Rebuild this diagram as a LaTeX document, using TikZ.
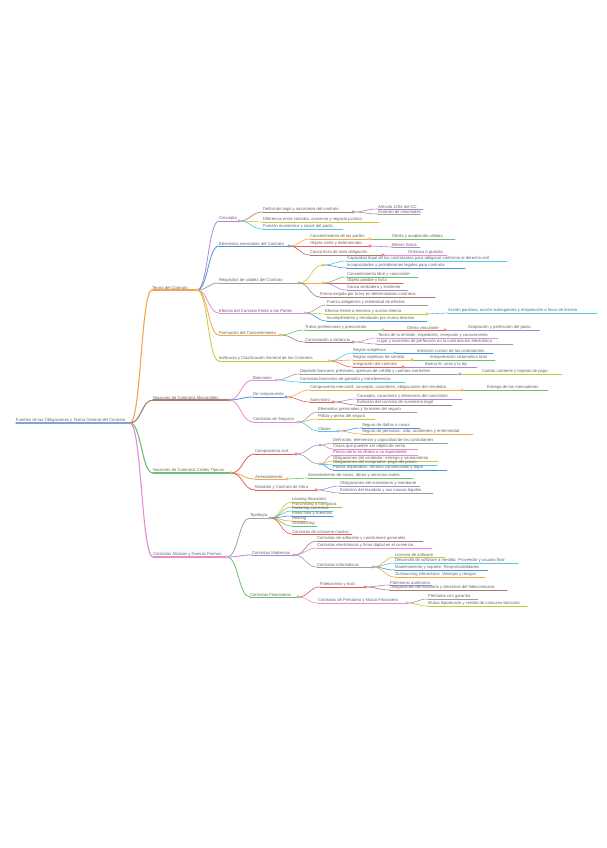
\documentclass[tikz,border=0pt]{standalone}
\usepackage{fontspec}
\setmainfont{Liberation Sans}
\usetikzlibrary{calc}
\definecolor{cpur}{HTML}{B084D9}
\definecolor{cblu}{HTML}{4A90E2}
\definecolor{cgra}{HTML}{9E9E9E}
\definecolor{cpin}{HTML}{E88AD6}
\definecolor{cora}{HTML}{F5A54A}
\definecolor{cylw}{HTML}{C8C83C}
\definecolor{ccya}{HTML}{55C6E6}
\definecolor{cgre}{HTML}{6CC070}
\definecolor{cred}{HTML}{E85A55}
\definecolor{cbro}{HTML}{A67C6F}
\definecolor{coli}{HTML}{B6B24A}
\definecolor{croot}{HTML}{7AA6D6}
\definecolor{txtc}{HTML}{666666}
\tikzset{
  tnode/.style={inner xsep=0pt, inner ysep=0.6pt, outer sep=0pt, minimum size=0pt,
    font=\fontsize{4.2}{5}\selectfont, text=txtc},
}
\newcommand\mmnode[7][0.6pt]{%
  \pgfmathsetmacro\nw{#4-#3}%
  \node[tnode, anchor=south west] (#2) at (#3,#5) {\makebox[\nw pt][l]{#7}};%
  \draw[#6, line width=#1, line cap=round] (#2.south west) -- (#2.south east);%
}
\newcommand\mmconn[4][0.6pt]{%
  \draw[#4, line width=#1, line cap=round] let \p1=(#2.south east), \p2=(#3.south west) in
    (\p1) .. controls ({0.5*\x1+0.5*\x2},\y1) and ({0.5*\x1+0.5*\x2},\y2) .. (\p2);%
}
\newcommand\mmdot[2]{\draw[#2, fill=white, line width=0.5pt] (#1.south east) circle[radius=1.3pt];}
\newcommand\mmhub[3]{\node[inner sep=0pt, outer sep=0pt, minimum size=0pt] (#1) at (#2,#3) {};}
\begin{document}
\begin{tikzpicture}[x=1pt,y=-1pt]
\fill[white] (0,0) rectangle (606,848);
\useasboundingbox (0,0) rectangle (606,848);
% root
\mmnode[1.4pt]{r}{16}{130}{423}{croot}{Fuentes de las Obligaciones y Teoría General del Contrato}
% level 1
\mmnode[1.1pt]{a}{152}{197}{290}{cora}{Teoría del Contrato}
\mmconn[1.1pt]{r}{a}{cora}
\mmnode[1.1pt]{b}{153}{229}{400}{cbro}{Nociones de Contratos Mercantiles}
\mmconn[1.1pt]{r}{b}{cbro}
\mmnode[1.1pt]{c}{153}{231}{473}{cgre}{Nociones de Contratos Civiles Típicos}
\mmconn[1.1pt]{r}{c}{cgre}
\mmnode[1.1pt]{d}{153}{227}{557}{cpin}{Contratos Atípicos y Nuevas Formas}
\mmconn[1.1pt]{r}{d}{cpin}
% ---------- a : Teoria del contrato
\mmnode[0.8pt]{a1}{219}{239}{221}{cpur}{Concepto}
\mmconn[0.8pt]{a}{a1}{cpur}
\mmnode[0.8pt]{a2}{219}{289}{246}{cblu}{Elementos esenciales del Contrato}
\mmconn[0.8pt]{a}{a2}{cblu}
\mmnode[0.8pt]{a3}{219}{299}{283}{cgra}{Requisitos de validez del Contrato}
\mmconn[0.8pt]{a}{a3}{cgra}
\mmnode[0.8pt]{a4}{219}{305}{313}{cpin}{Efectos del Contrato frente a las Partes}
\mmconn[0.8pt]{a}{a4}{cpin}
\mmnode[0.8pt]{a5}{219}{280}{335}{cora}{Formación del Consentimiento}
\mmconn[0.8pt]{a}{a5}{cora}
\mmnode[0.8pt]{a6}{219}{329}{361}{cylw}{Ineficacia y Clasificación General de los Contratos}
\mmconn[0.8pt]{a}{a6}{cylw}
% a1
\mmnode{a1a}{263}{353}{212}{cbro}{Definición legal y naturaleza del contrato}
\mmconn{a1}{a1a}{cbro}
\mmnode{a1a1}{378}{423}{209}{cpur}{Artículo 1254 del CC}
\mmconn{a1a}{a1a1}{cpur}
\mmnode{a1a2}{378}{420}{214}{cgra}{Acuerdo de voluntades}
\mmconn{a1a}{a1a2}{cgra}
\mmnode{a1b}{263}{379}{222}{cylw}{Diferencia entre contrato, convenio y negocio jurídico}
\mmconn{a1}{a1b}{cylw}
\mmnode{a1c}{263}{343}{229}{ccya}{Función económica y social del pacto}
\mmconn{a1}{a1c}{ccya}
% a2
\mmnode{a2a}{310}{370}{239}{cora}{Consentimiento de las partes}
\mmconn{a2}{a2a}{cora}
\mmnode{a2a1}{392}{455}{239}{cgre}{Oferta y aceptación válidas}
\mmconn{a2a}{a2a1}{cgre}
\mmnode{a2b}{310}{370}{246}{cred}{Objeto cierto y determinado}
\mmconn{a2}{a2b}{cred}
\mmnode{a2b1}{392}{420}{247}{cpur}{Bienes lícitos}
\mmconn{a2b}{a2b1}{cpur}
\mmnode{a2c}{310}{383}{255}{cbro}{Causa lícita de toda obligación}
\mmconn{a2}{a2c}{cbro}
\mmnode{a2c1}{408}{447}{255}{cpin}{Onerosa o gratuita}
\mmconn{a2c}{a2c1}{cpin}
% a3
\mmhub{a3h1}{323}{265}
\mmconn{a3}{a3h1}{cylw}
\mmnode{a3h1a}{347}{507}{261}{ccya}{Capacidad legal de los contratantes para obligarse conforme al derecho civil}
\mmconn{a3h1}{a3h1a}{ccya}
\mmnode{a3h1b}{347}{465}{268}{cblu}{Incapacidades y prohibiciones legales para contratar}
\mmconn{a3h1}{a3h1b}{cblu}
\mmhub{a3h2}{323}{283}
\mmconn{a3}{a3h2}{cora}
\mmnode{a3h2a}{347}{418}{277}{cgre}{Consentimiento libre y consciente}
\mmconn{a3h2}{a3h2a}{cgre}
\mmnode{a3h2b}{347}{403}{283}{cred}{Objeto posible y lícito}
\mmconn{a3h2}{a3h2b}{cred}
\mmnode{a3h2c}{347}{408}{290}{cpur}{Causa verdadera y existente}
\mmconn{a3h2}{a3h2c}{cpur}
\mmnode{a3c}{320}{435}{297}{cbro}{Forma exigida por la ley en determinados contratos}
\mmconn{a3}{a3c}{cbro}
% a4
\mmnode{a4a}{327}{428}{305}{cgra}{Fuerza obligatoria y relatividad de efectos}
\mmconn{a4}{a4a}{cgra}
\mmnode{a4b}{325}{427}{314}{cylw}{Efectos frente a terceros y acción directa}
\mmconn{a4}{a4b}{cylw}
\mmnode{a4b1}{448}{597}{313}{ccya}{Acción pauliana, acción subrogatoria y estipulación a favor de tercero}
\mmconn{a4b}{a4b1}{ccya}
\mmnode{a4c}{327}{427}{321}{cblu}{Incumplimiento y resolución por mutuo disenso}
\mmconn{a4}{a4c}{cblu}
% a5
\mmnode{a5a}{305}{383}{330}{cgre}{Tratos preliminares y precontrato}
\mmconn{a5}{a5a}{cgre}
\mmnode{a5b}{407}{445}{330}{cred}{Oferta vinculante}
\mmconn{a5a}{a5b}{cred}
\mmnode{a5c}{468}{540}{330}{cpur}{Aceptación y perfección del pacto}
\mmconn{a5b}{a5c}{cpur}
\mmnode{a5d}{305}{353}{342}{cbro}{Contratación a distancia}
\mmconn{a5}{a5d}{cbro}
\mmnode{a5d1}{378}{498}{338}{cpin}{Teoría de la emisión, expedición, recepción y conocimiento}
\mmconn{a5d}{a5d1}{cpin}
\mmnode{a5d2}{377}{513}{344}{cgra}{Lugar y momento de perfección en la contratación electrónica}
\mmconn{a5d}{a5d2}{cgra}
% a6
\mmnode{a6a}{353}{395}{353}{ccya}{Reglas subjetivas}
\mmconn{a6}{a6a}{ccya}
\mmnode{a6a1}{417}{493}{353}{cblu}{Intención común de los contratantes}
\mmconn{a6a}{a6a1}{cblu}
\mmnode{a6b}{353}{412}{360}{cora}{Reglas objetivas de sentido}
\mmconn{a6}{a6b}{cora}
\mmnode{a6b1}{430}{495}{360}{cgre}{Interpretación sistemática total}
\mmconn{a6b}{a6b1}{cgre}
\mmnode{a6c}{353}{403}{367}{cred}{Integración del contrato}
\mmconn{a6}{a6c}{cred}
\mmnode{a6c1}{425}{477}{367}{cpur}{Buena fe, usos y la ley}
\mmconn{a6c}{a6c1}{cpur}
% ---------- b
\mmnode[0.8pt]{b1}{253}{276}{380}{cpin}{Bancarios}
\mmconn[0.8pt]{b}{b1}{cpin}
\mmnode[0.8pt]{b2}{253}{286}{397}{cblu}{De compraventa}
\mmconn[0.8pt]{b}{b2}{cblu}
\mmnode[0.8pt]{b3}{253}{298}{422}{cpin}{Contratos de Seguros}
\mmconn[0.8pt]{b}{b3}{cpin}
\mmnode{b1a}{300}{460}{374}{cgra}{Depósito bancario, préstamo, apertura de crédito y cuentas corrientes}
\mmconn{b1}{b1a}{cgra}
\mmnode{b1a1}{482}{562}{374}{cylw}{Cuenta corriente y tarjetas de pago}
\mmconn{b1a}{b1a1}{cylw}
\mmnode{b1b}{300}{405}{382}{ccya}{Contratos bancarios de garantía y transferencias}
\mmconn{b1}{b1b}{ccya}
\mmnode{b2a}{310}{462}{390}{cora}{Compraventa mercantil: concepto, caracteres, obligaciones del vendedor}
\mmconn{b2}{b2a}{cora}
\mmnode{b2a1}{487}{548}{390}{cgre}{Entrega de las mercaderías}
\mmconn{b2a}{b2a1}{cgre}
\mmnode{b2b}{310}{333}{402}{cred}{Suministro}
\mmconn{b2}{b2b}{cred}
\mmnode{b2b1}{357}{462}{399}{cpur}{Concepto, caracteres y elementos del suministro}
\mmconn{b2b}{b2b1}{cpur}
\mmnode{b2b2}{357}{452}{405}{cbro}{Extinción del contrato de suministro legal}
\mmconn{b2b}{b2b2}{cbro}
\mmnode{b3a}{318}{417}{412}{cgra}{Elementos personales y formales del seguro}
\mmconn{b3}{b3a}{cgra}
\mmnode{b3b}{318}{375}{419}{cylw}{Póliza y prima del seguro}
\mmconn{b3}{b3b}{cylw}
\mmnode{b3c}{318}{338}{431}{ccya}{Clases}
\mmconn{b3}{b3c}{ccya}
\mmnode{b3c1}{362}{420}{428}{cblu}{Seguro de daños o cosas}
\mmconn{b3c}{b3c1}{cblu}
\mmnode{b3c2}{362}{473}{434}{cora}{Seguro de personas: vida, accidentes y enfermedad}
\mmconn{b3c}{b3c2}{cora}
% ---------- c
\mmnode[0.8pt]{c1}{255}{296}{454}{cred}{Compraventa civil}
\mmconn[0.8pt]{c}{c1}{cred}
\mmnode[0.8pt]{c2}{255}{287}{479}{cora}{Arrendamiento}
\mmconn[0.8pt]{c}{c2}{cora}
\mmnode[0.8pt]{c3}{255}{316}{490}{cred}{Mandato y Contrato de Obra}
\mmconn[0.8pt]{c}{c3}{cred}
\mmhub{c1h1}{320}{445}
\mmconn{c1}{c1h1}{cpur}
\mmnode{c1h1a}{333}{448}{443}{cgra}{Definición, elementos y capacidad de los contratantes}
\mmconn{c1h1}{c1h1a}{cgra}
\mmnode{c1h1b}{333}{418}{449}{cpin}{Cosas que pueden ser objeto de venta}
\mmconn{c1h1}{c1h1b}{cpin}
\mmhub{c1h2}{320}{464}
\mmconn{c1}{c1h2}{cgra}
\mmnode{c1h2a}{333}{418}{455}{cpin}{Precio cierto en dinero o su equivalente}
\mmconn{c1h2}{c1h2a}{cpin}
\mmnode{c1h2b}{333}{438}{461}{cylw}{Obligaciones del vendedor: entrega y saneamiento}
\mmconn{c1h2}{c1h2b}{cylw}
\mmnode{c1h2c}{333}{437}{465}{ccya}{Obligaciones del comprador: pago del precio}
\mmconn{c1h2}{c1h2c}{ccya}
\mmnode{c1h2d}{333}{447}{470}{cblu}{Pactos especiales: retracto convencional y legal}
\mmconn{c1h2}{c1h2d}{cblu}
\mmnode{c2a}{308}{413}{478}{cgre}{Arrendamiento de cosas, obras y servicios civiles}
\mmconn{c2}{c2a}{cgre}
\mmnode{c3a}{340}{420}{486}{cpur}{Obligaciones del mandatario y mandante}
\mmconn{c3}{c3a}{cpur}
\mmnode{c3b}{340}{433}{493}{cgra}{Extinción del mandato y sus causas legales}
\mmconn{c3}{c3b}{cgra}
% ---------- d
\mmnode[0.8pt]{d1}{250}{270}{518}{cgra}{Tipología}
\mmconn[0.8pt]{d}{d1}{cgra}
\mmnode[0.8pt]{d2}{252}{294}{555}{cpur}{Contratos Modernos}
\mmconn[0.8pt]{d}{d2}{cpur}
\mmnode[0.8pt]{d3}{250}{298}{597}{cgre}{Contratos Financieros}
\mmconn[0.8pt]{d}{d3}{cgre}
\mmnode{d1a}{292}{327}{502}{cylw}{Leasing financiero}
\mmconn{d1}{d1a}{cylw}
\mmnode{d1b}{292}{342}{507}{coli}{Franchising o franquicia}
\mmconn{d1}{d1b}{coli}
\mmnode{d1c}{292}{333}{511}{ccya}{Factoring comercial}
\mmconn{d1}{d1c}{ccya}
\mmnode{d1d}{292}{333}{516}{cblu}{Know how y licencias}
\mmconn{d1}{d1d}{cblu}
\mmnode{d1e}{292}{307}{521}{cora}{Hosting}
\mmconn{d1}{d1e}{cora}
\mmnode{d1f}{292}{317}{526}{cgre}{Outsourcing}
\mmconn{d1}{d1f}{cgre}
\mmnode{d1g}{292}{352}{534}{cred}{Contratos de consumo masivo}
\mmconn{d1}{d1g}{cred}
\mmnode{d2a}{317}{423}{541}{cbro}{Contratos de adhesión y condiciones generales}
\mmconn{d2}{d2a}{cbro}
\mmnode{d2b}{317}{432}{548}{cpin}{Contratos electrónicos y firma digital en el comercio}
\mmconn{d2}{d2b}{cpin}
\mmnode{d2c}{317}{373}{567}{cgra}{Contratos informáticos}
\mmconn{d2}{d2c}{cgra}
\mmnode{d2c1}{395}{445}{557}{cylw}{Licencia de software}
\mmconn{d2c}{d2c1}{cylw}
\mmnode{d2c2}{395}{518}{563}{ccya}{Desarrollo de software a medida: Proveedor y usuario final}
\mmconn{d2c}{d2c2}{ccya}
\mmnode{d2c3}{395}{488}{570}{cblu}{Mantenimiento y soporte: Responsabilidades}
\mmconn{d2c}{d2c3}{cblu}
\mmnode{d2c4}{395}{485}{577}{cora}{Outsourcing informático: Ventajas y riesgos}
\mmconn{d2c}{d2c4}{cora}
\mmnode{d3a}{320}{365}{587}{cred}{Fideicomiso y trust}
\mmconn{d3}{d3a}{cred}
\mmnode{d3a1}{390}{432}{585}{cpur}{Patrimonio autónomo}
\mmconn{d3a}{d3a1}{cpur}
\mmnode{d3a2}{390}{507}{590}{cbro}{Obligaciones del fiduciario y derechos del fideicomisario}
\mmconn{d3a}{d3a2}{cbro}
\mmnode{d3b}{318}{407}{603}{cpin}{Contratos de Préstamo y Mutuo Financiero}
\mmconn{d3}{d3b}{cpin}
\mmnode{d3b1}{428}{478}{599}{cgra}{Préstamo con garantía}
\mmconn{d3b}{d3b1}{cgra}
\mmnode{d3b2}{428}{527}{606}{cylw}{Mutuo hipotecario y crédito de consumo bancario}
\mmconn{d3b}{d3b2}{cylw}
% ---------- dots
\mmdot{a}{cora}\mmdot{b}{cbro}\mmdot{c}{cgre}\mmdot{d}{cpin}
\mmdot{a1}{cpur}\mmdot{a2}{cblu}\mmdot{a3}{cgra}\mmdot{a4}{cpin}\mmdot{a5}{cora}\mmdot{a6}{cylw}
\mmdot{a1a}{cbro}\mmdot{a2a}{cora}\mmdot{a2b}{cred}\mmdot{a2c}{cbro}
\mmdot{a3h1}{cylw}\mmdot{a3h2}{cora}\mmdot{a4b}{cylw}
\mmdot{a5a}{cgre}\mmdot{a5b}{cred}\mmdot{a5d}{cbro}
\mmdot{a6a}{ccya}\mmdot{a6b}{cora}\mmdot{a6c}{cred}
\mmdot{b1}{cpin}\mmdot{b2}{cblu}\mmdot{b3}{cpin}
\mmdot{b1a}{cgra}\mmdot{b2a}{cora}\mmdot{b2b}{cred}\mmdot{b3c}{ccya}
\mmdot{c1}{cred}\mmdot{c2}{cora}\mmdot{c3}{cred}\mmdot{c1h1}{cpur}\mmdot{c1h2}{cgra}
\mmdot{d1}{cgra}\mmdot{d2}{cpur}\mmdot{d3}{cgre}\mmdot{d2c}{cgra}\mmdot{d3a}{cred}\mmdot{d3b}{cpin}
\end{tikzpicture}
\end{document}
